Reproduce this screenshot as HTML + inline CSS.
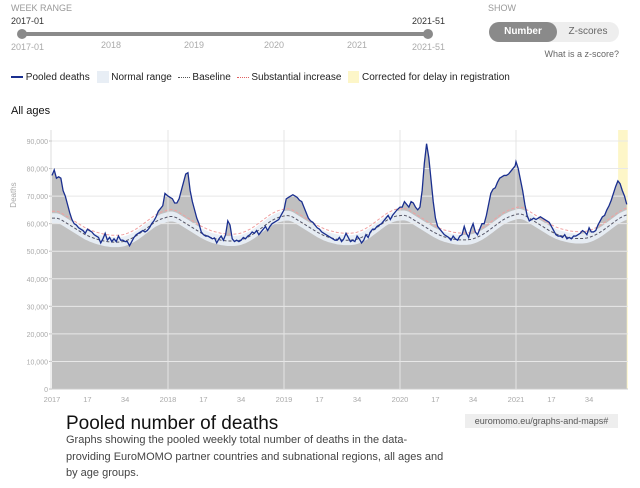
<!DOCTYPE html>
<html><head><meta charset="utf-8">
<style>
body{margin:0;width:640px;height:488px;background:#fff;font-family:"Liberation Sans",sans-serif;position:relative;overflow:hidden}
.a{position:absolute;white-space:nowrap}
</style></head><body>
<div class="a" style="left:11px;top:3px;font-size:9px;color:#999">WEEK RANGE</div>
<div class="a" style="left:11px;top:16px;font-size:9px;color:#333">2017-01</div>
<div class="a" style="left:412px;top:16px;font-size:9px;color:#333">2021-51</div>
<div class="a" style="left:22px;top:32px;width:406px;height:4px;background:#8a8a8a;border-radius:2px"></div>
<div class="a" style="left:17px;top:29px;width:10px;height:10px;background:#8a8a8a;border-radius:50%"></div>
<div class="a" style="left:423px;top:29px;width:10px;height:10px;background:#8a8a8a;border-radius:50%"></div>
<div class="a" style="left:11px;top:42px;font-size:9px;color:#aaa">2017-01</div>
<div class="a" style="left:101px;top:40px;font-size:9px;color:#aaa">2018</div>
<div class="a" style="left:184px;top:40px;font-size:9px;color:#aaa">2019</div>
<div class="a" style="left:264px;top:40px;font-size:9px;color:#aaa">2020</div>
<div class="a" style="left:347px;top:40px;font-size:9px;color:#aaa">2021</div>
<div class="a" style="left:412px;top:42px;font-size:9px;color:#aaa">2021-51</div>
<div class="a" style="left:488px;top:3px;font-size:9px;color:#999">SHOW</div>
<div class="a" style="left:489px;top:22px;width:130px;height:20px;background:#eee;border-radius:10px"></div>
<div class="a" style="left:489px;top:22px;width:68px;height:20px;background:#8a8a8a;border-radius:10px;color:#fff;font-size:10px;font-weight:bold;text-align:center;line-height:20px">Number</div>
<div class="a" style="left:560px;top:22px;width:56px;height:20px;color:#666;font-size:10px;text-align:center;line-height:20px">Z-scores</div>
<div class="a" style="right:21px;top:49px;font-size:9px;color:#666">What is a z-score?</div>
<div class="a" style="left:11px;top:71px;font-size:10px;color:#222;height:14px">
 <span><span style="display:inline-block;width:12px;height:2px;background:#1a2f8f;vertical-align:middle"></span> Pooled deaths</span>
 <span style="margin-left:4px"><span style="display:inline-block;width:12px;height:12px;background:#e8eef5;vertical-align:middle"></span> Normal range</span>
 <span style="margin-left:3px"><span style="display:inline-block;width:12px;border-top:1px dotted #555;vertical-align:middle"></span> Baseline</span>
 <span style="margin-left:3px"><span style="display:inline-block;width:12px;border-top:1px dotted #e06060;vertical-align:middle"></span> Substantial increase</span>
 <span style="margin-left:4px"><span style="display:inline-block;width:11px;height:12px;background:#fdf6c8;vertical-align:middle"></span> Corrected for delay in registration</span>
</div>
<div class="a" style="left:11px;top:105px;font-size:11px;color:#111">All ages</div>
<svg class="a" style="left:0;top:0" width="640" height="488" id="chart"></svg>
<div class="a" style="left:66px;top:413px;font-size:19px;color:#111">Pooled number of deaths</div>
<div class="a" style="left:465px;top:414px;width:153px;height:14px;background:#eee;font-size:9px;color:#555;text-align:center;line-height:14px">euromomo.eu/graphs-and-maps#</div>
<div class="a" style="left:66px;top:432px;font-size:11px;line-height:16.5px;color:#444">Graphs showing the pooled weekly total number of deaths in the data-<br>providing EuroMOMO partner countries and subnational regions, all ages and<br>by age groups.</div>
<script>
const years=[2017,2018,2019,2020,2021];
const yTicks=[0,10000,20000,30000,40000,50000,60000,70000,80000,90000];
const weekTicks=[17,34];
const deaths2017=[77.5,79.5,76.5,77,76.5,72,70,67,64,61.5,60,59.5,58.5,58,57.5,56.5,58,57.5,57,56,55.5,55,53,54.5,56.5,54,55,53.5,54.5,53.5,55.5,54,54,53.5,53.5,52,53.5,55,56,56.5,57,57.5,57,57.5,58.5,60,61,62.5,64.5,65.5,66.5,71];
const deaths2018=[70,69.5,69,67.5,67.5,69,72,75,78,78.5,72,68,65,62,60,57,56,55.5,55.5,55,54.5,54.8,53,54.5,55.5,54,56,61,59.5,54.5,53.5,54,53.5,54,55,54.5,55.5,56,57,56.5,57.5,56,57,58,59,57.5,59,60,60.5,61,61.5,63];
const deaths2019=[65,69,69.5,70,70.5,70,69.5,68.5,68,66,64,62,61,60.5,59.5,58.5,58,57,56.5,56,55.5,55,54.5,54,54,55,53.5,54.5,56.5,55,53.5,54,53.5,55.5,54.5,53,54,56,55,57,58,58,59,59.5,60,61,62,63,61.5,63,64,65];
const deaths2020=[66,66,68,67,66,68,67.5,66,65,66,72,82,89,84,76,68,62,59,58,57,56,55.5,55,54,55.5,54.5,54,55.5,56,59,56.5,55,58,60,57,56,58,60,60,63,67,71,72.5,73,75,76.5,77,77.5,77.5,78,79,80,81];
const deaths2021=[82.5,80,76,72,67,63,61,61.5,62,61.5,62,62.5,62,61.5,61,60.5,59,57.5,56,55.5,55.5,55,56,54.5,55,54.5,55.5,55.5,56,56.5,57.5,57,56,58.5,57,57,57.5,59.5,61,62.5,63,65,66.5,68.5,71,73.5,75.5,74.5,72,70,67];
const base2017=[62,62,62,61.8,61.5,61,60.5,60,59.5,59,58.5,58,57.5,57,56.5,56,55.7,55.3,55,54.7,54.4,54.2,54,53.8,53.6,53.5,53.4,53.3,53.3,53.3,53.3,53.4,53.5,53.7,54,54.3,54.7,55.1,55.6,56.1,56.7,57.3,57.9,58.5,59.1,59.7,60.3,60.8,61.2,61.6,61.9,62.1];
const base2018=[62.5,62.6,62.6,62.4,62.1,61.6,61.1,60.6,60.1,59.6,59.1,58.6,58.1,57.6,57.1,56.6,56.2,55.8,55.4,55.1,54.8,54.6,54.4,54.2,54,53.9,53.8,53.7,53.7,53.7,53.7,53.8,53.9,54.1,54.4,54.7,55.1,55.5,56,56.5,57.1,57.7,58.3,58.9,59.5,60.1,60.7,61.2,61.6,62,62.3,62.5];
const base2019=[62.8,62.9,62.9,62.7,62.4,61.9,61.4,60.9,60.4,59.9,59.4,58.9,58.4,57.9,57.4,56.9,56.5,56.1,55.7,55.4,55.1,54.9,54.7,54.5,54.3,54.2,54.1,54,54,54,54,54.1,54.2,54.4,54.7,55,55.4,55.8,56.3,56.8,57.4,58,58.6,59.2,59.8,60.4,61,61.5,61.9,62.3,62.6,62.8];
const base2020=[62.9,63,63,62.8,62.5,62,61.5,61,60.5,60,59.5,59,58.5,58,57.5,57,56.6,56.2,55.8,55.5,55.2,55,54.8,54.6,54.4,54.3,54.2,54.1,54.1,54.1,54.1,54.2,54.3,54.5,54.8,55.1,55.5,55.9,56.4,56.9,57.5,58.1,58.7,59.3,59.9,60.5,61.1,61.6,62,62.4,62.7,63,63.2];
const base2021=[63.4,63.5,63.5,63.3,63,62.5,62,61.5,61,60.5,60,59.5,59,58.5,58,57.5,57.1,56.7,56.3,56,55.7,55.5,55.3,55.1,54.9,54.8,54.7,54.6,54.6,54.6,54.6,54.7,54.8,55,55.3,55.6,56,56.4,56.9,57.4,58,58.6,59.2,59.8,60.4,61,61.6,62.1,62.5,62.9,63.2];
const deathsByYear=[deaths2017,deaths2018,deaths2019,deaths2020,deaths2021];
const baseByYear=[base2017,base2018,base2019,base2020,base2021];
const rangeHalf=1.8, substantialOffset=2.5, correctedWeeks=4;

const NS='http://www.w3.org/2000/svg';
const svg=document.getElementById('chart');
const L=52,R=628,T=130,B=389,yearW=116,weekW=2.215;
const xOf=(yi,w)=>L+yi*yearW+(w-1)*weekW;
const yOf=v=>B-v/90000*(B-141);
function mk(tag,attrs,parent){const e=document.createElementNS(NS,tag);for(const k in attrs)e.setAttribute(k,attrs[k]);(parent||svg).appendChild(e);return e;}
const pts=[],bpts=[];
deathsByYear.forEach((arr,yi)=>arr.forEach((v,i)=>pts.push([xOf(yi,i+1),yOf(v*1000)])));
baseByYear.forEach((arr,yi)=>arr.forEach((v,i)=>bpts.push([xOf(yi,i+1),v*1000])));
const lastX=pts[pts.length-1][0];
const cb=mk('rect',{x:xOf(4,deaths2021.length-correctedWeeks+1)-2,y:T,width:lastX-xOf(4,deaths2021.length-correctedWeeks+1)+3,height:B-T,fill:'#fdf6c8'});


const area=mk('path',{d:'M'+pts[0][0]+','+B+pts.map(p=>'L'+p[0]+','+p[1]).join('')+'L'+lastX+','+B+'Z',fill:'#c0c0c0'});


const up=bpts.map(p=>[p[0],yOf(p[1]+rangeHalf*1000)]),lo=bpts.map(p=>[p[0],yOf(p[1]-rangeHalf*1000)]).reverse();
const band=mk('path',{d:'M'+up.map(p=>p[0]+','+p[1]).join('L')+'L'+lo.map(p=>p[0]+','+p[1]).join('L')+'Z',fill:'#e8eef5',opacity:'0.95'});


yTicks.forEach(t=>{const y=yOf(t);
 const g=mk('line',{x1:L,x2:R,y1:y,y2:y,stroke:t===0?'#ccc':'#e8e8e8','stroke-width':1});
 
 
 mk('line',{x1:L-3,x2:L,y1:y,y2:y,stroke:'#bbb'});
 const tx=mk('text',{x:L-4,y:y+3,'text-anchor':'end','font-size':7,fill:'#aaa','font-family':'Liberation Sans'});
 tx.textContent=t===0?'0':t.toLocaleString('en-US');
 
 
});
years.forEach((yr,yi)=>{const x=xOf(yi,1);
 if(yi>0){const g=mk('line',{x1:x,x2:x,y1:T,y2:B,stroke:'#e4e4e4'});
 
 }
 const tx=mk('text',{x:x,y:402,'text-anchor':'middle','font-size':7.5,fill:'#aaa','font-family':'Liberation Sans'});tx.textContent=yr;
 
 
 weekTicks.forEach(w=>{const t2=mk('text',{x:xOf(yi,w),y:402,'text-anchor':'middle','font-size':7.5,fill:'#aaa','font-family':'Liberation Sans'});t2.textContent=w;
 
 });
});
mk('line',{x1:L-1,x2:L-1,y1:T,y2:B,stroke:'#ddd'});
const sub=mk('path',{d:'M'+bpts.map(p=>p[0]+','+yOf(p[1]+substantialOffset*1000)).join('L'),fill:'none',stroke:'#f0a0a0','stroke-width':1,'stroke-dasharray':'3,2'});


const bl=mk('path',{d:'M'+bpts.map(p=>p[0]+','+yOf(p[1])).join('L'),fill:'none',stroke:'#556','stroke-width':1,'stroke-dasharray':'3,2'});


const ln=mk('path',{d:'M'+pts.map(p=>p[0]+','+p[1]).join('L'),fill:'none',stroke:'#1a2f8f','stroke-width':1.3});


const yl=mk('text',{x:16,y:195,'text-anchor':'middle','font-size':8,fill:'#aaa','font-family':'Liberation Sans',transform:'rotate(-90 16 195)'});yl.textContent='Deaths';


</script>
</body></html>
